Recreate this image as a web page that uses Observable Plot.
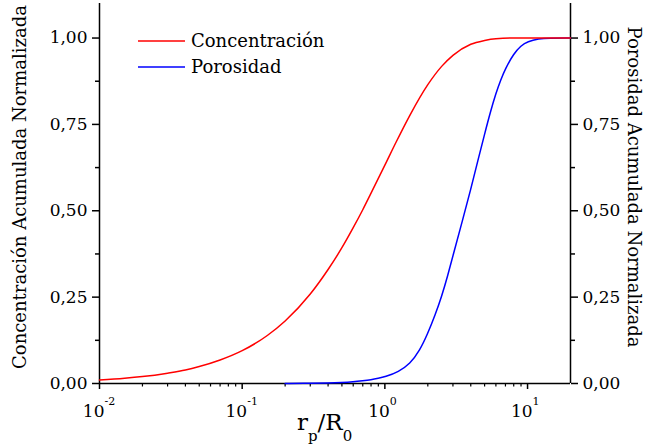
<!DOCTYPE html>
<html><head><meta charset="utf-8">
<script src="https://cdn.jsdelivr.net/npm/d3@7"></script>
<script src="https://cdn.jsdelivr.net/npm/@observablehq/plot@0.6"></script>
<style>
body{margin:0;background:#fff}
</style>
</head><body><div id="chart"></div>
<script>
// Concentración (red)
const concX = [0.01,0.015,0.02,0.03,0.04,0.05,0.07,0.1,0.15,0.2,0.3,0.4,0.5,0.6,0.7,0.8,1.0,1.2,1.5,2,2.5,3,4,5,6,8,10,15,20];
const concY = [0.010,0.015,0.020,0.030,0.039,0.049,0.068,0.095,0.139,0.181,0.259,0.330,0.393,0.451,0.503,0.551,0.632,0.699,0.777,0.865,0.918,0.950,0.982,0.993,0.998,1.0,1.0,1.0,1.0];
// Porosidad (blue)
const poroX = [0.2,0.3,0.4,0.5,0.6,0.7,0.8,0.9,1.0,1.25,1.5,1.75,2.0,2.25,2.5,2.75,3.0,3.5,4.0,4.5,5,5.5,6,6.5,7,8,9,10,12,14,20];
const poroY = [0,0.0005,0.0015,0.003,0.005,0.008,0.011,0.015,0.019,0.034,0.057,0.094,0.145,0.198,0.252,0.31,0.37,0.472,0.562,0.648,0.722,0.787,0.84,0.88,0.912,0.955,0.978,0.99,0.998,1.0,1.0];

const yTicks = [0,0.25,0.5,0.75,1];
const yMinor = [0.125,0.375,0.625,0.875];
const xTicks = [0.01,0.1,1,10];
const xExp = ["-2","-1","0","1"];
const xMinor = [0.02,0.03,0.04,0.05,0.06,0.07,0.08,0.09,0.2,0.3,0.4,0.5,0.6,0.7,0.8,0.9,2,3,4,5,6,7,8,9];
const seriesNames = ["Concentración","Porosidad"];
const seriesColors = ["#ff0000","#0000ff"];
const yLabelLeft = "Concentración Acumulada Normalizada";
const yLabelRight = "Porosidad Acumulada Normalizada";

const conc = concX.map((x,i)=>({x, y: concY[i]}));
const poro = poroX.map((x,i)=>({x, y: poroY[i]}));
const fmt = d => d.toFixed(2).replace(".", ",");
const font = "DejaVu Serif";

const chart = Plot.plot({
  width: 646, height: 447,
  marginLeft: 99, marginRight: 76, marginTop: 3, marginBottom: 64,
  style: {fontFamily: font, fontSize: "17px"},
  x: {type: "log", domain: [0.01, 20]},
  y: {domain: [0, 1.1]},
  marks: [
    Plot.axisY(yTicks, {anchor: "left", tickSize: 7, tickPadding: 5, tickFormat: fmt, fontSize: 17, strokeWidth: 1.5, label: null}),
    Plot.axisY(yMinor, {anchor: "left", tickSize: 4, tickFormat: () => "", strokeWidth: 1.5, label: null}),
    Plot.axisY(yTicks, {anchor: "right", tickSize: 7, tickPadding: 5, tickFormat: fmt, fontSize: 17, strokeWidth: 1.5, label: null}),
    Plot.axisY(yMinor, {anchor: "right", tickSize: 4, tickFormat: () => "", strokeWidth: 1.5, label: null}),
    Plot.axisX(xTicks, {anchor: "bottom", tickSize: 6, tickFormat: () => "", strokeWidth: 1.5, label: null}),
    Plot.axisX(xMinor, {anchor: "bottom", tickSize: 3.5, tickFormat: () => "", strokeWidth: 1.2, label: null}),
    Plot.text(xTicks, {x: d => d, y: () => 0, text: () => "10", textAnchor: "end", dx: 5, dy: 28, fontSize: 17, fontFamily: font}),
    Plot.text(xTicks, {x: d => d, y: () => 0, text: (d,i) => xExp[i], textAnchor: "start", dx: 5, dy: 18, fontSize: 11, fontFamily: font}),
    Plot.ruleX([0.01, 20], {strokeWidth: 1.5}),
    Plot.ruleY([0], {strokeWidth: 1.5}),
    Plot.line(poro, {x: "x", y: "y", stroke: seriesColors[1], strokeWidth: 1.5, curve: "basis"}),
    Plot.line(conc, {x: "x", y: "y", stroke: seriesColors[0], strokeWidth: 1.5, curve: "monotone-x"})
  ]
});
document.getElementById("chart").append(chart);

const svg = d3.select(chart);
// Axis titles
svg.append("text").attr("transform", "translate(26,187) rotate(-90)")
  .attr("text-anchor", "middle").attr("font-size", 18).attr("fill", "#000").text(yLabelLeft);
svg.append("text").attr("transform", "translate(628,187) rotate(90)")
  .attr("text-anchor", "middle").attr("font-size", 18).attr("fill", "#000").text(yLabelRight);
const xl = svg.append("text").attr("x", 297).attr("y", 430).attr("text-anchor", "start")
  .attr("font-size", 23).attr("fill", "#000");
xl.append("tspan").text("r");
xl.append("tspan").attr("font-size", 15).attr("dy", 11).text("p");
xl.append("tspan").attr("dy", -11).attr("font-size", 23).text("/R");
xl.append("tspan").attr("font-size", 15).attr("dy", 11).text("0");
// Legend
const legend = svg.append("g");
seriesNames.forEach((name, i) => {
  const y = 41 + i * 26;
  legend.append("line").attr("x1", 138).attr("x2", 185).attr("y1", y).attr("y2", y)
    .attr("stroke", seriesColors[i]).attr("stroke-width", 1.5);
  legend.append("text").attr("x", 191).attr("y", y + 6).attr("text-anchor", "start")
    .attr("font-size", 18).attr("fill", "#000").text(name);
});
svg.selectAll("text").attr("font-family", font);
svg.attr("font-family", font);
</script></body></html>
